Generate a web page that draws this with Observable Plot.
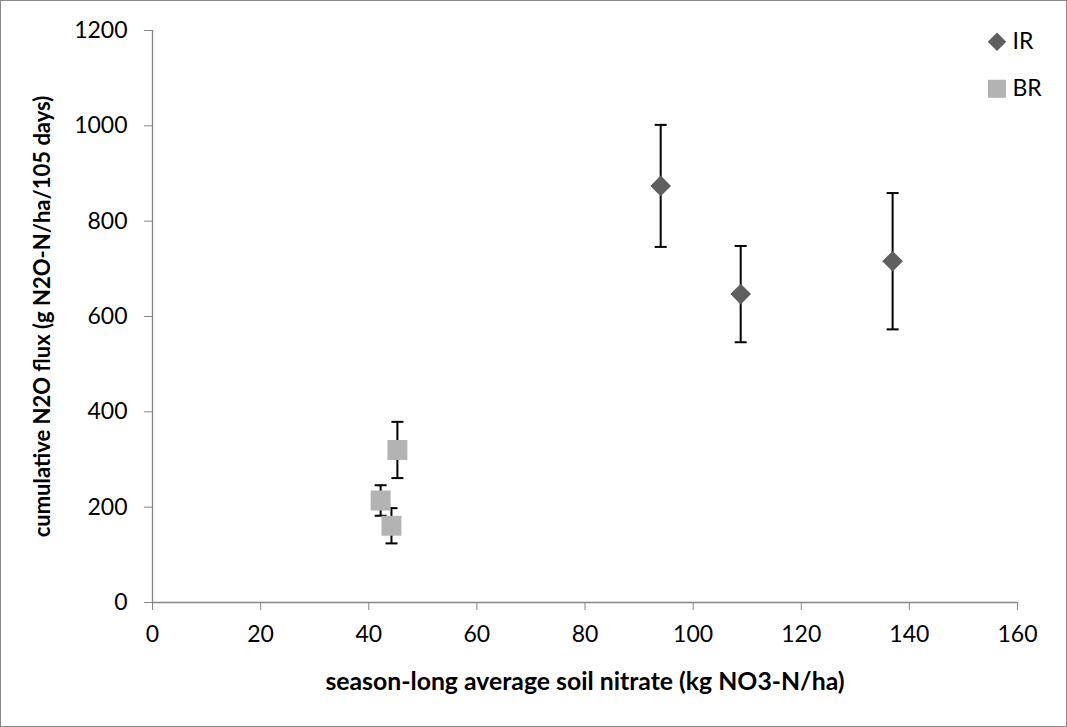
<!DOCTYPE html>
<html>
<head>
<meta charset="utf-8">
<script src="https://cdn.jsdelivr.net/npm/d3@7"></script>
<script src="https://cdn.jsdelivr.net/npm/@observablehq/plot@0.6"></script>
<style>
  html, body { margin: 0; padding: 0; background: #fff; }
  #wrap { position: relative; width: 1067px; height: 727px; overflow: hidden; }
  #border { position: absolute; left: 0; top: 0; width: 1067px; height: 727px; box-sizing: border-box; border: 1px solid #898989; pointer-events: none; }
  #chart svg { display: block; }
</style>
</head>
<body>
<div id="wrap"><div id="chart"></div><div id="border"></div></div>
<script>
// Data
const seriesNames = ["IR", "BR"];
const irNitrate = [94.0, 108.8, 136.9];
const irFlux = [874, 647, 716];
const irErr = [128, 101, 143];
const brNitrate = [45.3, 42.2, 44.2];
const brFlux = [320, 214, 161];
const brErr = [59, 32, 37];
const xTicks = [0, 20, 40, 60, 80, 100, 120, 140, 160];
const yTicks = [0, 200, 400, 600, 800, 1000, 1200];
const xTitle = "season-long average soil nitrate (kg NO3-N/ha)";
const yTitle = "cumulative N2O flux (g N2O-N/ha/105 days)";

const colors = { IR: "#5f5f5f", BR: "#b3b3b3" };
const symbols = { IR: "diamond2", BR: "square2" };
const radii = { IR: 9.3, BR: 12.7 };

const rows = [
  ...irNitrate.map((x, i) => ({ s: "IR", x, y: irFlux[i], e: irErr[i] })),
  ...brNitrate.map((x, i) => ({ s: "BR", x, y: brFlux[i], e: brErr[i] }))
];

const capSymbol = {
  draw(ctx, size) {
    const w = Math.sqrt(size);
    ctx.moveTo(-w, 0);
    ctx.lineTo(w, 0);
  }
};

const font = "Lato, 'Open Sans', sans-serif";
const capR = 6 / Math.sqrt(Math.PI);

const marks = [
  Plot.ruleY([0], { stroke: "#868686", strokeWidth: 1.3 }),
  Plot.ruleX([0], { stroke: "#868686", strokeWidth: 1.3 }),
  Plot.axisX({ ticks: xTicks, tickSize: 8, tickPadding: 15, stroke: "#868686", fill: "black", fontSize: 23, label: null, tickFormat: d => String(d) }),
  Plot.axisY({ ticks: yTicks, tickSize: 8, tickPadding: 17, stroke: "#868686", fill: "black", fontSize: 23, label: null, tickFormat: d => String(d) }),
  // error bars
  Plot.ruleX(rows, { x: "x", y1: d => d.y - d.e, y2: d => d.y + d.e, stroke: "black", strokeWidth: 2 }),
  Plot.dot(rows, { x: "x", y: d => d.y + d.e, symbol: capSymbol, r: capR, stroke: "black", strokeWidth: 2, fill: "none" }),
  Plot.dot(rows, { x: "x", y: d => d.y - d.e, symbol: capSymbol, r: capR, stroke: "black", strokeWidth: 2, fill: "none" }),
  // markers
  Plot.dot(rows.filter(d => d.s === "IR"), { x: "x", y: "y", symbol: symbols.IR, r: radii.IR, fill: colors.IR, stroke: "none" }),
  Plot.dot(rows.filter(d => d.s === "BR"), { x: "x", y: "y", symbol: symbols.BR, r: radii.BR, fill: colors.BR, stroke: "none" }),
  // axis titles
  Plot.text([xTitle], { text: d => d, frameAnchor: "bottom", dy: 80, textAnchor: "middle", lineAnchor: "middle", fontWeight: "bold", fontSize: 24.8, fill: "black" }),
  Plot.text([yTitle], { text: d => d, frameAnchor: "left", dx: -110, rotate: -90, textAnchor: "middle", lineAnchor: "middle", fontWeight: "bold", fontSize: 22, fill: "black" })
];

// legend
seriesNames.forEach((s, i) => {
  const dy = 11.3 + i * 47;
  marks.push(Plot.dot([s], { frameAnchor: "top-right", dx: -20.5, dy, symbol: symbols[s], r: s === "IR" ? 8.3 : 11.5, fill: colors[s], stroke: "none" }));
  marks.push(Plot.text([s], { text: d => d, frameAnchor: "top-right", dx: -5, dy, textAnchor: "start", lineAnchor: "middle", fill: "black", fontSize: 23 }));
});

const chart = Plot.plot({
  width: 1067,
  height: 727,
  marginLeft: 152,
  marginRight: 50,
  marginTop: 30,
  marginBottom: 125,
  x: { domain: [0, 160] },
  y: { domain: [0, 1200] },
  style: { fontFamily: font, fontSize: "23px", background: "white", color: "black", overflow: "visible" },
  marks
});
document.getElementById("chart").appendChild(chart);
</script>
</body>
</html>
